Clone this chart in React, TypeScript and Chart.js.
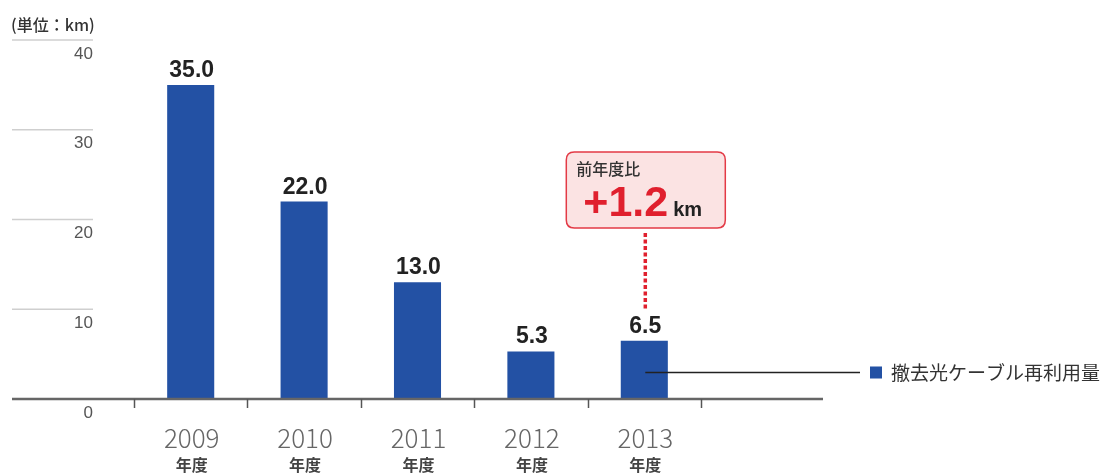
import React, { useEffect, useRef } from "react";
import { Chart, registerables } from "chart.js";

Chart.register(...registerables);

const categories = ["2009", "2010", "2011", "2012", "2013"];
const categorySuffix = "年度";
const reuseKm = [35.0, 22.0, 13.0, 5.3, 6.5];
const yTicks = [0, 10, 20, 30, 40];
const seriesName = "撤去光ケーブル再利用量";
const unitLabel = "(単位：km)";
const calloutTitle = "前年度比";
const calloutValue = "+1.2";
const calloutUnit = "km";

const BLUE = "#2351a4";
const RED = "#e0202e";
const JP = '"Noto Sans CJK JP", "Noto Sans", sans-serif';
const NUM = '"Liberation Sans", Arial, sans-serif';

function roundRect(ctx: CanvasRenderingContext2D, x: number, y: number, w: number, h: number, r: number) {
  ctx.beginPath();
  ctx.moveTo(x + r, y);
  ctx.lineTo(x + w - r, y);
  ctx.quadraticCurveTo(x + w, y, x + w, y + r);
  ctx.lineTo(x + w, y + h - r);
  ctx.quadraticCurveTo(x + w, y + h, x + w - r, y + h);
  ctx.lineTo(x + r, y + h);
  ctx.quadraticCurveTo(x, y + h, x, y + h - r);
  ctx.lineTo(x, y + r);
  ctx.quadraticCurveTo(x, y, x + r, y);
  ctx.closePath();
}

const decorPlugin = {
  id: "decor",
  afterDatasetsDraw(chart: any) {
    const ctx: CanvasRenderingContext2D = chart.ctx;
    const area = chart.chartArea;
    const xs = chart.scales.x;
    const ys = chart.scales.y;
    const n = categories.length;
    const catW = (area.right - area.left) / n;
    const axisLeft = area.left - 122;
    const axisRight = area.right + 122;
    const base = ys.getPixelForValue(0);

    ctx.save();
    // unit label
    ctx.fillStyle = "#333";
    ctx.font = `500 16px ${JP}`;
    ctx.textAlign = "left";
    ctx.textBaseline = "middle";
    ctx.fillText(unitLabel, axisLeft - 1, 25);

    // y grid stubs and labels
    const stubRight = axisLeft + 81;
    yTicks.forEach((v) => {
      const y = ys.getPixelForValue(v);
      if (v !== 0) {
        ctx.strokeStyle = "#cfcfcf";
        ctx.lineWidth = 1.5;
        ctx.beginPath();
        ctx.moveTo(axisLeft, y);
        ctx.lineTo(stubRight, y);
        ctx.stroke();
      }
      ctx.fillStyle = "#555";
      ctx.font = `17px ${NUM}`;
      ctx.textAlign = "right";
      ctx.textBaseline = "middle";
      ctx.fillText(String(v), stubRight, y + 14);
    });

    // x axis line
    ctx.strokeStyle = "#666";
    ctx.lineWidth = 2.5;
    ctx.beginPath();
    ctx.moveTo(axisLeft, base);
    ctx.lineTo(axisRight, base);
    ctx.stroke();

    // category tick marks
    ctx.strokeStyle = "#555";
    ctx.lineWidth = 1.5;
    for (let i = 0; i <= n; i++) {
      const x = Math.round(xs.getPixelForValue(0) - catW / 2 + i * catW) + 0.5;
      ctx.beginPath();
      ctx.moveTo(x, base);
      ctx.lineTo(x, base + 9);
      ctx.stroke();
    }

    // x labels
    categories.forEach((c, i) => {
      const x = xs.getPixelForValue(i) + 1;
      ctx.fillStyle = "#666";
      ctx.font = `300 26px ${JP}`;
      ctx.textAlign = "center";
      ctx.textBaseline = "middle";
      ctx.fillText(c, x, 438);
      ctx.font = `bold 16px ${JP}`;
      ctx.fillStyle = "#444";
      ctx.fillText(categorySuffix, x, 465);
    });

    // value labels
    const meta = chart.getDatasetMeta(0);
    meta.data.forEach((bar: any, i: number) => {
      ctx.fillStyle = "#222";
      ctx.font = `bold 23px ${NUM}`;
      ctx.textAlign = "center";
      ctx.textBaseline = "alphabetic";
      ctx.fillText(reuseKm[i].toFixed(1), bar.x + 1, bar.y - 8);
    });

    // callout
    const last = meta.data[n - 1];
    const bx = last.x - 78;
    const bw = 159;
    const by = 152;
    const bh = 76;
    roundRect(ctx, bx, by, bw, bh, 8);
    ctx.fillStyle = "#fbe3e3";
    ctx.fill();
    ctx.strokeStyle = "#e33a46";
    ctx.lineWidth = 1.5;
    ctx.stroke();

    ctx.fillStyle = "#333";
    ctx.font = `500 16px ${JP}`;
    ctx.textAlign = "left";
    ctx.textBaseline = "middle";
    ctx.fillText(calloutTitle, bx + 10, 169);

    ctx.fillStyle = RED;
    ctx.font = `bold 43px ${NUM}`;
    ctx.textBaseline = "alphabetic";
    ctx.fillText(calloutValue, bx + 17, 216);
    const vw = ctx.measureText(calloutValue).width;
    ctx.fillStyle = "#222";
    ctx.font = `bold 20px ${NUM}`;
    ctx.fillText(calloutUnit, bx + 17 + vw + 5, 216);

    // dotted connector
    ctx.strokeStyle = RED;
    ctx.lineWidth = 3.5;
    ctx.setLineDash([4, 2.5]);
    ctx.beginPath();
    ctx.moveTo(last.x + 1, by + bh + 5);
    ctx.lineTo(last.x + 1, last.y - 31);
    ctx.stroke();
    ctx.setLineDash([]);

    // legend leader
    const ly = Math.round(ys.getPixelForValue(3)) + 0.5;
    ctx.strokeStyle = "#222";
    ctx.lineWidth = 1.5;
    ctx.beginPath();
    ctx.moveTo(last.x + 1, ly);
    ctx.lineTo(axisRight + 37, ly);
    ctx.stroke();
    ctx.fillStyle = BLUE;
    ctx.fillRect(axisRight + 47, ly - 6, 12, 12);
    ctx.fillStyle = "#333";
    ctx.font = `19px ${JP}`;
    ctx.textAlign = "left";
    ctx.textBaseline = "middle";
    ctx.fillText(seriesName, axisRight + 68, ly);

    ctx.restore();
  },
};

export default function App() {
  const ref = useRef<HTMLCanvasElement | null>(null);
  useEffect(() => {
    document.body.style.margin = "0";
    const canvas = ref.current;
    if (!canvas) return;
    const chart = new Chart(canvas, {
      type: "bar",
      data: {
        labels: categories,
        datasets: [
          {
            label: seriesName,
            data: reuseKm,
            backgroundColor: BLUE,
            categoryPercentage: 1,
            barPercentage: 0.415,
          },
        ],
      },
      options: {
        responsive: false,
        animation: false,
        devicePixelRatio: 1,
        layout: { padding: { left: 134, right: 400, top: 40, bottom: 76 } },
        plugins: { legend: { display: false }, tooltip: { enabled: false } },
        scales: {
          x: { display: false, offset: true },
          y: { display: false, min: 0, max: 40 },
        },
      },
      plugins: [decorPlugin],
    });
    return () => chart.destroy();
  }, []);
  return (
    <div style={{ width: 1101, height: 475, background: "#fff" }}>
      <canvas ref={ref} width={1101} height={475} style={{ display: "block" }} />
    </div>
  );
}
